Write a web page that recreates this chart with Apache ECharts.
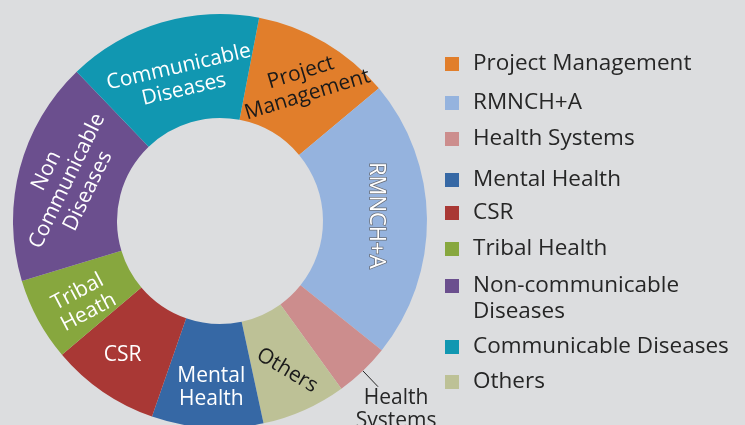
<!DOCTYPE html>
<html>
<head>
<meta charset="utf-8">
<script src="https://cdn.jsdelivr.net/npm/echarts@6/dist/echarts.min.js"></script>
<style>
  html, body { margin: 0; background: #dcdddf; }
  #chart { width: 745px; height: 425px; }
</style>
</head>
<body>
<div id="chart"></div>
<script>
// slices, clockwise from the top
const names = ['Project Management', 'RMNCH+A', 'Health Systems', 'Others', 'Mental Health',
  'CSR', 'Tribal Health', 'Non-communicable Diseases', 'Communicable Diseases'];
const sliceLabels = ['Project\nManagement', 'RMNCH+A', 'Health\nSystems', 'Others', 'Mental\nHealth',
  'CSR', 'Tribal\nHeath', 'Non\nCommunicable\nDiseases', 'Communicable\nDiseases'];
const shares = [10.9, 21.8, 4.3, 6.6, 8.7, 8.5, 6.5, 17.5, 15.2];

const legendOrder = ['Project Management', 'RMNCH+A', 'Health Systems', 'Mental Health', 'CSR',
  'Tribal Health', 'Non-communicable Diseases', 'Communicable Diseases', 'Others'];

const colors = ['#e17e2b', '#95b3de', '#cc8d8d', '#bdc196', '#3668a5', '#a93835', '#87a73e', '#6b4f8e', '#1197b1'];
const labelRotate = [17, -90, 0, -31, 0, 0, 28, 64, 13];
const labelColor = ['#1a1a1a', '#fff', '#262626', '#1a1a1a', '#fff', '#fff', '#fff', '#fff', '#fff'];
const labelDx = [4, -4, 13, 5, 1, -8, -1, 0, 4];
const labelDy = [0, 2, 0, 3, 9, 4, 6, 0, 10];
const legendCenterY = [64, 103, 139, 180, 213, 249, 286, 347, 382];

const font = '"Open Sans", "Noto Sans", sans-serif';
const chart = echarts.init(document.getElementById('chart'));

const legends = legendOrder.map((n, i) => {
  const twoLine = n === 'Non-communicable Diseases';
  return {
    data: [n],
    orient: 'vertical',
    left: 445,
    top: twoLine ? legendCenterY[i] - 39 : legendCenterY[i] - 13,
    padding: 0,
    itemWidth: 14,
    itemHeight: 14,
    icon: 'rect',
    selectedMode: false,
    formatter: twoLine ? '\n{g|}Non-communicable\n{g|}Diseases' : '{g|}{name}',
    textStyle: {
      fontSize: 22.5, fontFamily: font, color: '#262626', lineHeight: 26,
      rich: { g: { width: 9 } }
    }
  };
});

const data = names.map((n, i) => {
  const item = {
    name: n,
    value: shares[i],
    itemStyle: { color: colors[i] },
    label: { formatter: sliceLabels[i], rotate: labelRotate[i], color: labelColor[i] }
  };
  if (n === 'RMNCH+A') {
    item.label.textBorderColor = '#6a6f78';
    item.label.textBorderWidth = 1.5;
    item.label.fontSize = 22;
  }
  if (n === 'Health Systems') {
    item.label.position = 'outside';
    item.labelLine = { show: true, length: 22, length2: 0, lineStyle: { color: '#262626', width: 1 } };
  }
  return item;
});

chart.setOption({
  backgroundColor: '#dcdddf',
  animation: false,
  legend: legends,
  series: [{
    type: 'pie',
    center: [220, 221],
    radius: [103, 207],
    startAngle: 79.1,
    clockwise: true,
    avoidLabelOverlap: false,
    label: {
      show: true, position: 'inside', fontSize: 21, lineHeight: 23, fontFamily: font
    },
    labelLine: { show: false },
    labelLayout: function (p) {
      const i = p.dataIndex;
      const out = { dx: labelDx[i], dy: labelDy[i] };
      if (i === 2) {
        out.align = 'center';
        out.verticalAlign = 'top';
      }
      return out;
    },
    emphasis: { disabled: true },
    data: data
  }]
});
</script>
</body>
</html>
